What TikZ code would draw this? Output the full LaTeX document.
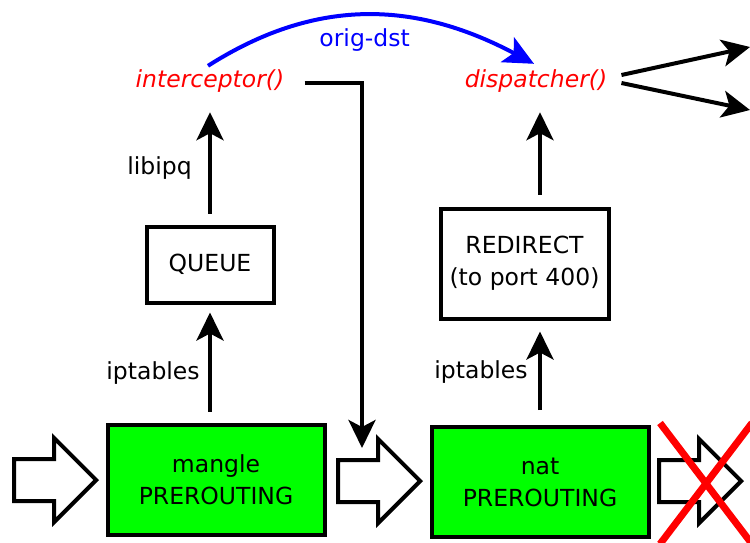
\documentclass[tikz,border=0pt]{standalone}
\usepackage{fontspec}
\setmainfont{DejaVu Sans}
\usetikzlibrary{positioning,arrows.meta,shapes.arrows}
\definecolor{chaingreen}{HTML}{00FF00}
\definecolor{funcred}{HTML}{FF0000}
\definecolor{dstblue}{HTML}{0000FF}

\begin{document}
\begin{tikzpicture}[
    x=1pt, y=-1pt,
    font=\fontsize{23.5}{32}\selectfont,
    box/.style={
        rectangle, draw=black, line width=4pt,
        align=center, inner sep=0pt
    },
    chainbox/.style={
        box, fill=chaingreen,
        minimum width=217pt, minimum height=110pt
    },
    flow/.style={
        single arrow, draw=black, fill=white, line width=4pt,
        minimum height=82pt, inner xsep=0pt, inner ysep=19pt,
        single arrow head extend=21pt, anchor=tip
    },
    func/.style={
        text=funcred, inner sep=0pt, text height=17pt, text depth=5pt,
        font=\fontsize{23.5}{32}\selectfont\itshape
    },
    arrow/.style={-{Stealth[length=28pt,width=27pt,inset=7pt]}, line width=4pt}
]
\useasboundingbox (0,0) rectangle (750,542);

\node[flow]              (in)       at (99,480)    {};
\node[chainbox]          (mangle)   at (216,479.5) {mangle\\PREROUTING};
\node[flow]              (mid)      at (423,481)   {};
\node[chainbox]          (nat)      at (540,482)   {nat\\PREROUTING};
\node[flow]              (out)      at (744,481)   {};
\node[box, minimum width=127pt, minimum height=76pt]  (queue)    at (210,264.5) {QUEUE};
\node[box, minimum width=168pt, minimum height=110pt] (redirect) at (524.5,263.5) {REDIRECT\\(to port 400)};
\node[func]              (intc)     at (210,81)    {interceptor()};
\node[func]              (disp)     at (536,81)    {dispatcher()};

\coordinate (drop)  at (362,448);
\coordinate (fwdA)  at (750,47);
\coordinate (fwdB)  at (750,110);
\coordinate (xtl)   at (660,423);
\coordinate (xbr)   at (752,544);
\coordinate (xtr)   at (752,423);
\coordinate (xbl)   at (660,544);

\draw[arrow, shorten <=11pt, shorten >=8pt] (queue.south |- mangle.north) -- (queue.south)
    node[pos=0.42, left=5pt] {iptables};
\draw[arrow, shorten <=11pt, shorten >=20pt] (queue.north) -- (intc.south)
    node[pos=0.43, left=13pt] {libipq};
\draw[arrow, shorten <=15pt, shorten >=11pt] (nat.north) -- (nat.north |- redirect.south)
    node[pos=0.51, left=7pt] {iptables};
\draw[arrow, shorten <=12pt, shorten >=20pt] (nat.north |- redirect.north) -- (nat.north |- disp.south);
\draw[arrow] ([xshift=20pt,yshift=-2pt]intc.east) -| (drop);
\draw[arrow] ([xshift=14pt,yshift=6pt]disp.east) -- (fwdA);
\draw[arrow] ([xshift=14pt,yshift=-2pt]disp.east) -- (fwdB);
\draw[dstblue, line width=4pt, -{Stealth[length=30pt,width=28pt,inset=7pt]}]
    ([xshift=-2pt,yshift=4pt]intc.north) .. controls (313,-1) and (412,-1) .. ([xshift=-2pt,yshift=6pt]disp.north)
    node[pos=0.5, below=8pt, text=dstblue] {orig-dst};

\draw[funcred, line width=7pt] (xtl) -- (xbr);
\draw[funcred, line width=7pt] (xtr) -- (xbl);
\end{tikzpicture}
\end{document}
